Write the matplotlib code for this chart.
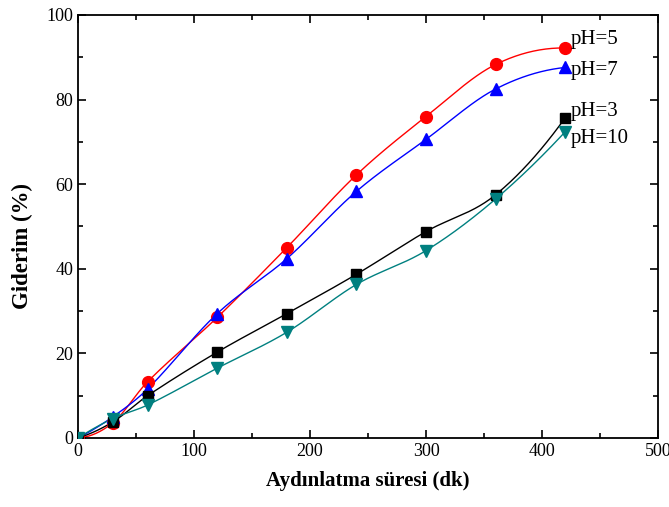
import numpy as np
import matplotlib
matplotlib.use("Agg")
import matplotlib.pyplot as plt
from matplotlib.ticker import MultipleLocator

time_min = [0, 30, 60, 120, 180, 240, 300, 360, 420]
ph5 = [0, 3.6, 13.3, 28.5, 45.0, 62.2, 76.0, 88.3, 92.2]
ph7 = [0, 5.0, 11.6, 29.4, 42.4, 58.3, 70.6, 82.5, 87.6]
ph3 = [0, 3.8, 10.0, 20.3, 29.4, 38.7, 48.8, 57.5, 75.7]
ph10 = [0, 4.6, 7.8, 16.5, 25.0, 36.3, 44.3, 56.5, 72.4]
series_labels = ["pH=5", "pH=7", "pH=3", "pH=10"]


def hermite_curve(x, y, n=400):
    """Cubic Hermite curve through the points, central-difference tangents."""
    x = np.asarray(x, float); y = np.asarray(y, float)
    k = len(x)
    h = np.diff(x)
    d = np.zeros(k)
    d[1:-1] = (y[2:] - y[:-2]) / (x[2:] - x[:-2])
    d[0] = 2 * (y[1] - y[0]) / h[0] - d[1]
    d[-1] = 2 * (y[-1] - y[-2]) / h[-1] - d[-2]
    xs = np.linspace(x[0], x[-1], n)
    ys = np.empty_like(xs)
    for j, xv in enumerate(xs):
        i = min(np.searchsorted(x, xv, side="right") - 1, k - 2)
        t = (xv - x[i]) / h[i]
        h00 = 2 * t**3 - 3 * t**2 + 1
        h10 = t**3 - 2 * t**2 + t
        h01 = -2 * t**3 + 3 * t**2
        h11 = t**3 - t**2
        ys[j] = h00 * y[i] + h10 * h[i] * d[i] + h01 * y[i + 1] + h11 * h[i] * d[i + 1]
    return xs, ys


plt.rcParams["font.family"] = ["Liberation Serif", "DejaVu Serif"]
fig = plt.figure(figsize=(6.69, 5.07), dpi=100)
ax = fig.add_axes([78 / 669, 1 - 438 / 507, 580 / 669, 423 / 507])

specs = [
    (ph5, "#ff0000", "o", 8.5),
    (ph7, "#0000ff", "^", 8.5),
    (ph3, "#000000", "s", 6.5),
    (ph10, "#008080", "v", 8.5),
]
for (vals, col, mk, ms) in specs:
    xs, ys = hermite_curve(time_min, vals)
    ax.plot(xs, ys, color=col, lw=1.0, zorder=2)
    ax.plot(time_min, vals, ls="none", marker=mk, color=col, ms=ms, zorder=3)

label_pos = [(425, 94.2), (425, 86.8), (425, 77.3), (425, 70.9)]
for lab, (lx, ly) in zip(series_labels, label_pos):
    ax.text(lx, ly, lab, fontsize=15, va="center", ha="left")

ax.set_xlim(0, 500)
ax.set_ylim(0, 100)
ax.xaxis.set_major_locator(MultipleLocator(100))
ax.xaxis.set_minor_locator(MultipleLocator(50))
ax.yaxis.set_major_locator(MultipleLocator(20))
ax.yaxis.set_minor_locator(MultipleLocator(10))
ax.tick_params(which="both", direction="in", top=True, right=True, width=1.2, labelsize=13)
ax.tick_params(which="major", length=6)
ax.tick_params(which="minor", length=3.5)
for s in ax.spines.values():
    s.set_linewidth(1.3)

ax.set_xlabel("Aydınlatma süresi (dk)", fontsize=15, fontweight="bold", labelpad=8)
ax.set_ylabel("Giderim (%)", fontsize=16.5, fontweight="bold")
ax.yaxis.set_label_coords(-0.078, 0.455)

fig.savefig("out.png", dpi=100)
